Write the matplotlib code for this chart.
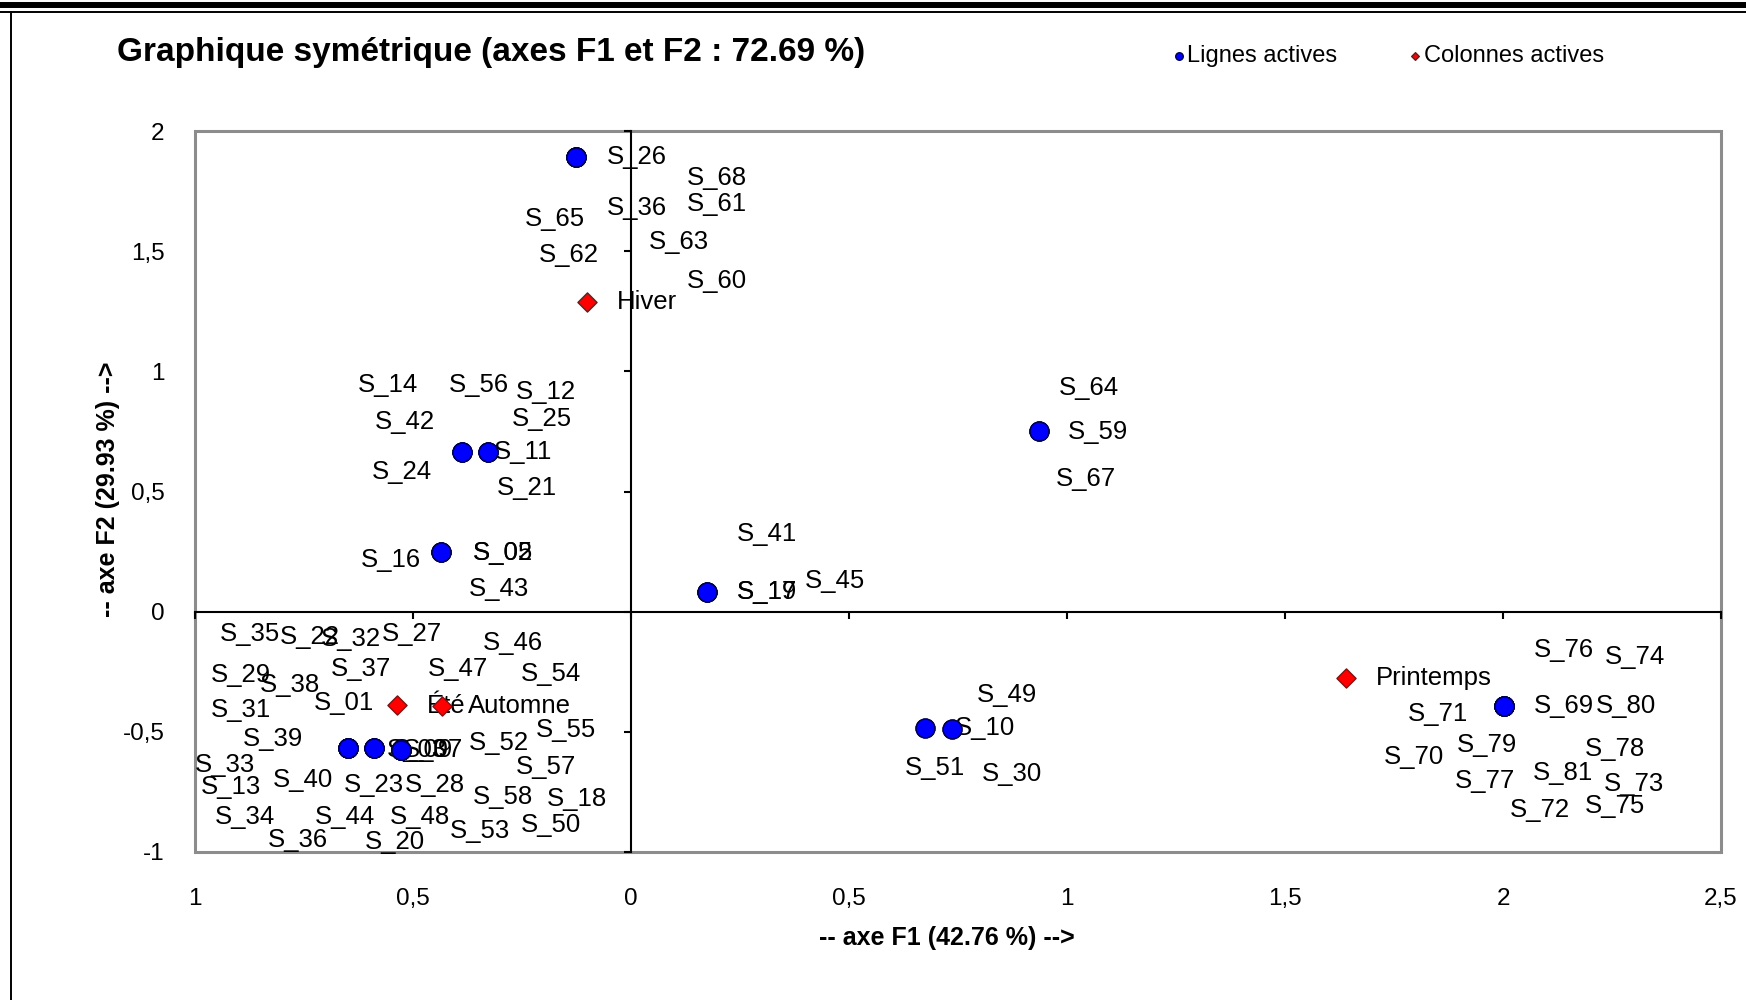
import matplotlib
matplotlib.use("Agg")
import matplotlib.pyplot as plt
from matplotlib.lines import Line2D
from matplotlib.patches import Rectangle

plt.rcParams['font.family'] = ['Liberation Sans', 'DejaVu Sans']

# ---- Data: coordinates on the first two factorial axes ----
# Rows (lignes actives); rows with identical profiles share coordinates.
row_names = [
    "S_26", "S_68", "S_61", "S_36", "S_65", "S_62", "S_63", "S_60",
    "S_14", "S_56", "S_42", "S_24",
    "S_12", "S_25", "S_11", "S_21",
    "S_16", "S_02", "S_05", "S_43",
    "S_41", "S_17", "S_19", "S_45",
    "S_64", "S_59", "S_67",
    "S_35", "S_22", "S_29", "S_38", "S_31", "S_39", "S_33", "S_13", "S_40", "S_34", "S_36", "S_44",
    "S_32", "S_27", "S_37", "S_01", "S_23", "S_20", "S_03",
    "S_46", "S_47", "S_54", "S_55", "S_52", "S_57", "S_28", "S_58", "S_18", "S_48", "S_53", "S_50", "S_09", "S_07",
    "S_51", "S_49",
    "S_10", "S_30",
    "S_76", "S_74", "S_71", "S_69", "S_80", "S_70", "S_79", "S_78", "S_77", "S_81", "S_73", "S_72", "S_75",
]
row_f1 = (
    [-0.127] * 8 + [-0.387] * 4 + [-0.329] * 4 + [-0.436] * 4 + [0.174] * 4
    + [0.935] * 3 + [-0.650] * 12 + [-0.589] * 7 + [-0.528] * 14
    + [0.675] * 2 + [0.736] * 2 + [2.002] * 13
)
row_f2 = (
    [1.891] * 8 + [0.663] * 4 + [0.663] * 4 + [0.250] * 4 + [0.083] * 4
    + [0.751] * 3 + [-0.566] * 12 + [-0.566] * 7 + [-0.575] * 14
    + [-0.482] * 2 + [-0.487] * 2 + [-0.394] * 13
)

# Columns (colonnes actives): the seasons
col_names = ["Hiver", "Été", "Automne", "Printemps"]
col_f1 = [-0.102, -0.536, -0.434, 1.640]
col_f2 = [1.289, -0.389, -0.394, -0.278]

x_ticks = [-1, -0.5, 0, 0.5, 1, 1.5, 2, 2.5]
x_tick_labels = ["1", "0,5", "0", "0,5", "1", "1,5", "2", "2,5"]
y_ticks = [-1, -0.5, 0, 0.5, 1, 1.5, 2]
y_tick_labels = ["-1", "-0,5", "0", "0,5", "1", "1,5", "2"]

# ---- Label layout: pixel offsets of each label from its point ----
row_label_offsets = [
    (31, 0), (111, -21), (111, -47), (31, -51), (-51, -62), (-37, -98), (73, -85), (111, -124),
    (-104, 67), (-13, 67), (-87, 30), (-90, -20),
    (28, 60), (24, 33), (6, 0), (9, -36),
    (-80, -8), (32, -1), (32, -1), (28, -37),
    (30, 58), (30, 0), (30, 0), (98, 11),
    (20, 43), (29, -1), (17, -48),
    (-128, 114), (-68, 111), (-137, 73), (-88, 63), (-137, 38), (-105, 9), (-153, -17),
    (-147, -39), (-75, -32), (-133, -69), (-80, -92), (-33, -69),
    (-53, 109), (8, 114), (-43, 79), (-60, 45), (-30, -37), (-9, -94), (13, -2),
    (82, 107), (27, 81), (120, 76), (135, 20), (68, 7), (115, -17), (4, -35), (72, -47),
    (146, -49), (-11, -67), (49, -81), (120, -75), (-8, 0), (2, 0),
    (-21, -40), (51, 33),
    (3, 1), (30, -45),
    (30, 56), (101, 49), (-96, -8), (30, 0), (92, 0), (-120, -51), (-47, -39), (81, -43),
    (-49, -75), (29, -67), (100, -78), (6, -104), (81, -100),
]
col_label_offsets = [(30, 0), (30, -1), (26, 0), (30, 0)]

fig = plt.figure(figsize=(17.46, 10.0), dpi=100)
fig.patch.set_facecolor("white")

# Outer frame of the sheet: double rule on top, single rule on the left
fig.add_artist(Line2D([0, 1], [0.995, 0.995], transform=fig.transFigure, color="black", lw=4.3))
fig.add_artist(Line2D([0, 1], [0.988, 0.988], transform=fig.transFigure, color="black", lw=1.4))
fig.add_artist(Line2D([0.0065, 0.0065], [0, 0.988], transform=fig.transFigure, color="black", lw=1.4))

ax = fig.add_axes([0.1117, 0.148, 0.874, 0.721])
ax.set_xlim(-1, 2.5)
ax.set_ylim(-1, 2)
ax.set_facecolor("white")

# Grey plot-area border
ax.add_patch(Rectangle((0, 0), 1, 1, transform=ax.transAxes, fill=False,
                       edgecolor="#8c8c8c", lw=2.2, clip_on=False, zorder=1))

# Axes crossing at the origin
for side in ("top", "right"):
    ax.spines[side].set_visible(False)
for side in ("left", "bottom"):
    ax.spines[side].set_position(("data", 0))
    ax.spines[side].set_color("black")
    ax.spines[side].set_linewidth(1.5)
    ax.spines[side].set_zorder(4)
ax.set_xticks(x_ticks)
ax.set_yticks(y_ticks)
ax.tick_params(direction="out", length=5, width=1.5, color="black",
               labelbottom=False, labelleft=False)

# Tick labels along the outer border
secx = ax.secondary_xaxis("bottom")
secx.set_xticks(x_ticks, labels=x_tick_labels)
secx.tick_params(length=0, pad=26, labelsize=17.5)
secx.spines["bottom"].set_visible(False)

secy = ax.secondary_yaxis("left")
secy.set_yticks(y_ticks, labels=y_tick_labels)
secy.tick_params(length=0, pad=22, labelsize=17.5)
secy.spines["left"].set_visible(False)

# Points
sc_rows = ax.scatter(row_f1, row_f2, s=185, c="#0000ff", edgecolors="#000050",
                     linewidths=1.0, zorder=5)
sc_cols = ax.scatter(col_f1, col_f2, marker="D", s=95, c="#ff0000", edgecolors="#6a1a1a",
                     linewidths=1.0, zorder=5)

label_size = 18.5
for name, x, y, off in zip(row_names, row_f1, row_f2, row_label_offsets):
    ax.annotate(name, (x, y), xytext=off, textcoords="offset pixels",
                ha="left", va="center", fontsize=label_size, color="black", zorder=3)
for name, x, y, off in zip(col_names, col_f1, col_f2, col_label_offsets):
    ax.annotate(name, (x, y), xytext=off, textcoords="offset pixels",
                ha="left", va="center", fontsize=label_size, color="black", zorder=3)

# Axis titles
ax.set_xlabel("-- axe F1 (42.76 %) -->", fontsize=18, fontweight="bold")
ax.xaxis.set_label_coords(0.493, -0.103)
ax.set_ylabel("-- axe F2 (29.93 %) -->", fontsize=18, fontweight="bold")
ax.yaxis.set_label_coords(-0.049, 0.503)

# Chart title
fig.text(117 / 1746, 0.948, "Graphique symétrique (axes F1 et F2 : 72.69 %)",
         fontsize=24, fontweight="bold", ha="left", va="center")

# Legend
fig.legend(handles=[sc_rows, sc_cols], labels=["Lignes actives", "Colonnes actives"],
           loc="center left", bbox_to_anchor=(1172 / 1746, 0.944), ncol=2, frameon=False,
           markerscale=0.4, handletextpad=0.05, handlelength=0.6, columnspacing=3.0,
           borderpad=0, borderaxespad=0, fontsize=17)

fig.savefig("out.png", dpi=100, facecolor="white")
